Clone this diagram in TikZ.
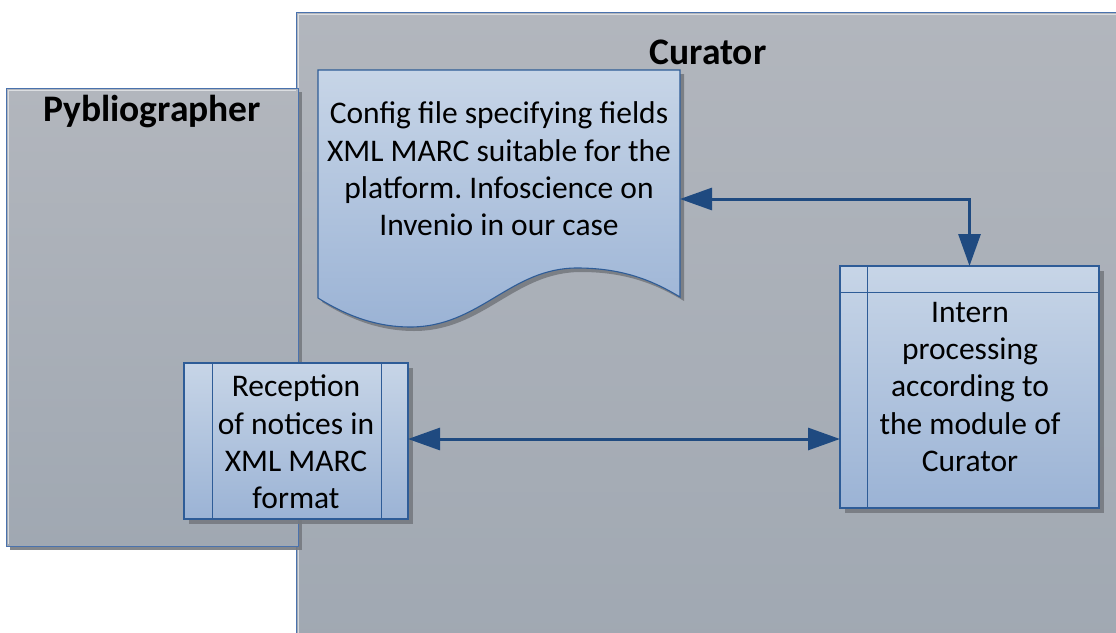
\documentclass[tikz,border=0pt]{standalone}
\usepackage{fontspec}
\setmainfont{Carlito}
\frenchspacing
\usetikzlibrary{arrows.meta,shadows}
\definecolor{frametop}{RGB}{178,182,189}
\definecolor{framebot}{RGB}{160,168,178}
\definecolor{framebd}{RGB}{74,114,173}
\definecolor{boxtop}{RGB}{199,213,231}
\definecolor{boxbot}{RGB}{155,179,213}
\definecolor{boxbd}{RGB}{46,92,151}
\definecolor{arrowc}{RGB}{31,74,128}
\definecolor{shadowc}{RGB}{118,122,128}
\tikzset{
  frame/.style={draw=framebd, line width=0.9pt, top color=frametop, bottom color=framebot,
    anchor=north west, inner sep=0pt, outer sep=0pt,
    drop shadow={shadow xshift=4pt, shadow yshift=-4pt, fill=shadowc, opacity=0.9}},
  procbox/.style={draw=boxbd, line width=1.1pt, top color=boxtop, bottom color=boxbot,
    anchor=north west, inner sep=0pt, outer sep=0pt,
    drop shadow={shadow xshift=5pt, shadow yshift=-5pt, fill=shadowc, opacity=0.9}},
  txt/.style={align=center, font=\fontsize{31.5}{37.3}\selectfont, inner sep=0pt},
  ttl/.style={font=\fontsize{37.5}{42}\selectfont\bfseries, inner sep=0pt},
  conn/.style={draw=arrowc, line width=3pt, {Triangle[length=32pt,width=22pt]}-{Triangle[length=32pt,width=22pt]}},
  inner/.style={draw=boxbd, line width=1pt}
}
\begin{document}
\begin{tikzpicture}[x=1pt,y=-1pt]
\useasboundingbox (0,0) rectangle (1116,632);
\clip (0,0) rectangle (1116,632);
% Curator frame
\node[frame, minimum width=830pt, minimum height=640pt] (curator) at (296,12) {};
\draw[white, opacity=0.55, line width=1pt] (298.5,660) -- (298.5,14.5) -- (1126,14.5);
\node[ttl] (curtitle) at (708,52) {Curator};
% Pybliographer frame
\node[frame, minimum width=292pt, minimum height=458pt] (pyb) at (6,88) {};
\draw[white, opacity=0.55, line width=1pt] (8.5,544) -- (8.5,90.5) -- (296,90.5);
\node[ttl] (pybtitle) at (152,112) {Pybliographer};
% Document shape
\begin{scope}[shift={(4,4)}]
\fill[shadowc, opacity=0.9] (318,70) -- (318,298) .. controls (350,318) and (380,327) .. (410,327)
  .. controls (480,327) and (510,268) .. (577,268) .. controls (625,268) and (655,282) .. (680,297)
  -- (680,70) -- cycle;
\end{scope}
\shade[top color=boxtop, bottom color=boxbot, draw=boxbd, line width=1.1pt]
  (318,70) -- (318,298) .. controls (350,318) and (380,327) .. (410,327)
  .. controls (480,327) and (510,268) .. (577,268) .. controls (625,268) and (655,282) .. (680,297)
  -- (680,70) -- cycle;
\node[anchor=north west, minimum width=362pt, minimum height=228pt, inner sep=0pt, outer sep=0pt] (docbox) at (318,70) {};
\node[txt] (doctext) at (499,169) {Config file specifying fields\\XML MARC suitable for the\\platform. Infoscience on\\Invenio in our case};
% Reception box
\node[procbox, minimum width=224pt, minimum height=156pt] (recep) at (184,363) {};
\draw[inner] ([xshift=28pt]recep.north west) -- ([xshift=28pt]recep.south west);
\draw[inner] ([xshift=-27pt]recep.north east) -- ([xshift=-27pt]recep.south east);
\node[txt] (receptext) at (296,442) {Reception\\of notices in\\XML MARC\\format};
% Intern box
\node[procbox, minimum width=259pt, minimum height=242pt] (intern) at (840,266) {};
\draw[inner] ([xshift=27pt]intern.north west) -- ([xshift=27pt]intern.south west);
\draw[inner] ([yshift=-26pt]intern.north west) -- ([yshift=-26pt]intern.north east);
\node[txt] (interntext) at (970,387) {Intern\\processing\\according to\\the module of\\Curator};
% Connectors
\draw[conn] ([yshift=-15pt]docbox.east) -| (intern.north);
\draw[conn] ([yshift=2pt]recep.east) -- ([yshift=2pt]recep.east -| intern.west);
\end{tikzpicture}
\end{document}
